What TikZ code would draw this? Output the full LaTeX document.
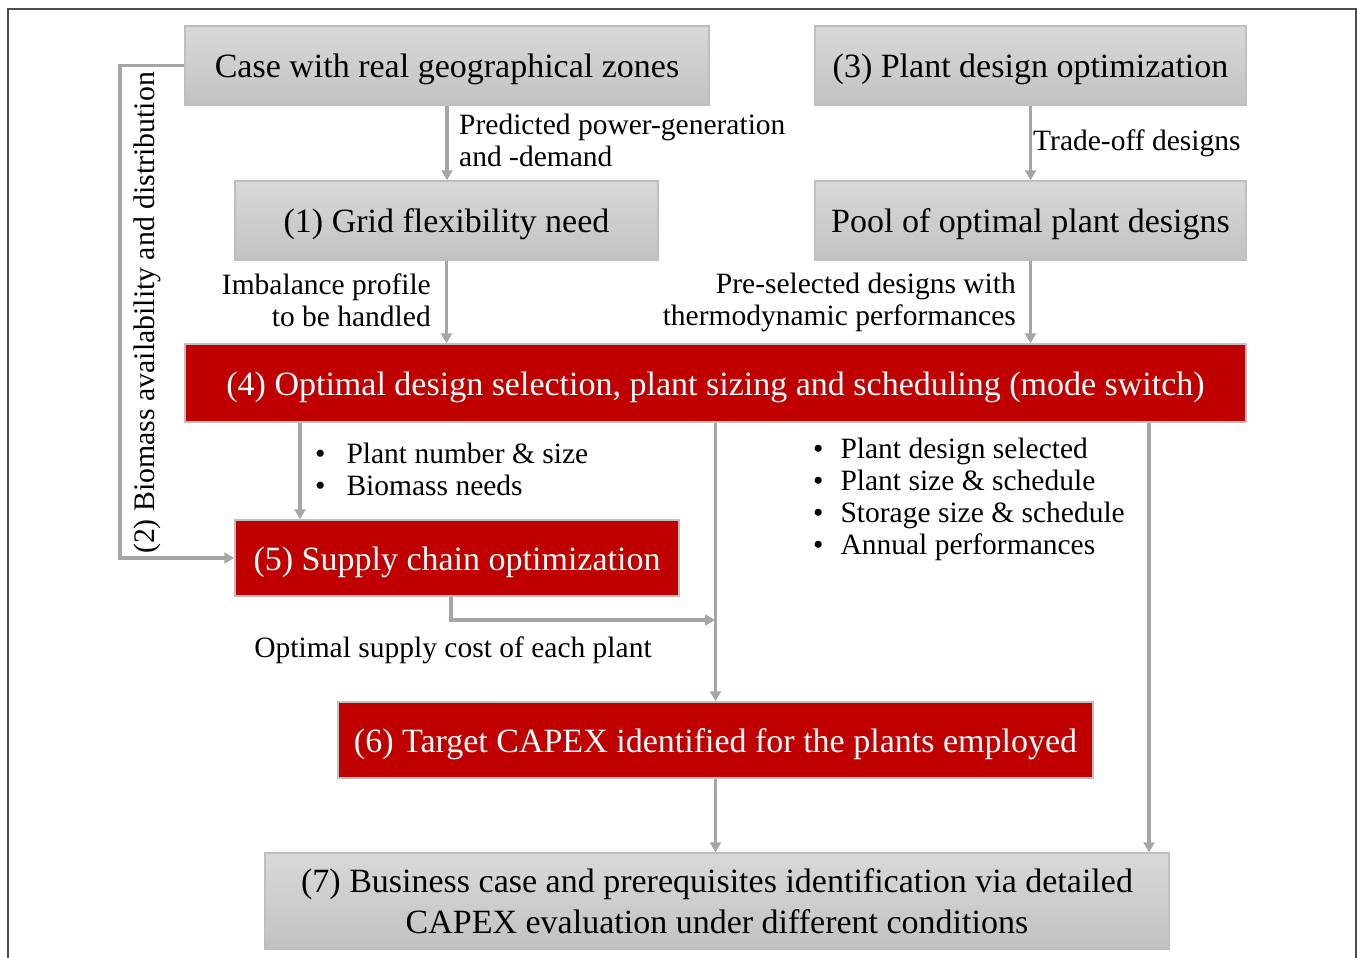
\documentclass[tikz,border=0pt]{standalone}
\usepackage{fontspec}
\setmainfont{Liberation Serif}
\usetikzlibrary{arrows.meta,calc}
\definecolor{boxred}{HTML}{C00000}
\definecolor{arrgray}{HTML}{A6A6A6}
\definecolor{edgegray}{HTML}{BFBFBF}
\begin{document}
\begin{tikzpicture}[x=1pt,y=-1pt,
  graybox/.style={rectangle, draw=edgegray, line width=1.5pt, top color=gray!30, bottom color=gray!48,
    inner sep=0pt, align=center, font=\fontsize{34}{41}\selectfont},
  redbox/.style={rectangle, draw=edgegray, line width=1.5pt, fill=boxred, text=white,
    inner sep=0pt, align=center, font=\fontsize{34}{41}\selectfont},
  oneline/.style={text height=24pt, text depth=0pt},
  lbl/.style={inner sep=0pt, font=\fontsize{29.5}{32}\selectfont},
  arr/.style={draw=arrgray, line width=3.2pt, -{Triangle[length=10pt,width=11pt]}}
]
\useasboundingbox (0,0) rectangle (1357,958);
\draw[line width=1.5pt, color=black!70] (8,958) -- (8,9) -- (1356,9) -- (1356,958);

% boxes
\node[graybox, oneline, minimum width=524pt, minimum height=79pt] (A) at (447,65.5) {Case with real geographical zones};
\node[graybox, oneline, minimum width=431pt, minimum height=79pt] (P3) at (1030.5,65.5) {(3) Plant design optimization};
\node[graybox, oneline, minimum width=423pt, minimum height=79pt] (G1) at (446.5,220.5) {(1) Grid flexibility need};
\node[graybox, oneline, minimum width=431pt, minimum height=79pt] (Pool) at (1030.5,220.5) {Pool of optimal plant designs};
\node[redbox, oneline, minimum width=1061pt, minimum height=78pt] (B4) at (715.5,383) {(4) Optimal design selection, plant sizing and scheduling (mode switch)};
\node[redbox, oneline, minimum width=444pt, minimum height=76pt] (B5) at (457,558) {(5) Supply chain optimization};
\node[redbox, oneline, minimum width=755pt, minimum height=76pt] (B6) at (715.5,740) {(6) Target CAPEX identified for the plants employed};
\node[graybox, minimum width=904pt, minimum height=96pt] (B7) at (717,901) {\raisebox{-2pt}{(7) Business case and prerequisites identification via detailed}\\\raisebox{-2pt}{CAPEX evaluation under different conditions}};

% helper coordinates
\coordinate (c45) at (300,0);
\coordinate (c47) at (1149,0);
\coordinate (c51) at (451,0);
\coordinate (j) at (715,620);
\coordinate (c2) at (120,300);

% connectors
\draw[arr] (A.south) -- (G1.north -| A.south);
\draw[arr] (P3.south) -- (Pool.north);
\draw[arr] (G1.south) -- (G1.south |- B4.north);
\draw[arr] (Pool.south) -- (Pool.south |- B4.north);
\draw[arr] (B4.south -| c45) -- (B5.north -| c45);
\draw[arr] (B4.south) -- (B6.north);
\draw[arr] (B5.south -| c51) |- (j);
\draw[arr] (B6.south) -- (B6.south |- B7.north);
\draw[arr] (B4.south -| c47) -- (B7.north -| c47);
\draw[arr] (A.west) -| (c2) |- (B5.west);

% labels
\node[lbl, anchor=west, align=left] (lPred) at (459,140) {Predicted power-generation\\and -demand};
\node[lbl, anchor=west] (lTrade) at (1033,143) {Trade-off designs};
\node[lbl, anchor=east, align=right] (lImb) at (431,300.5) {Imbalance profile\\to be handled};
\node[lbl, anchor=east, align=right] (lPre) at (1016,302.5) {Pre-selected designs with\\thermodynamic performances};
\node[lbl, anchor=west] (lList1) at (315,473) {\begin{tabular}{@{}l@{\hspace{21pt}}l@{}}\textbullet & Plant number \& size\\ \textbullet & Biomass needs\end{tabular}};
\node[lbl, anchor=west] (lList2) at (813,500) {\fontsize{29.5}{32.3}\selectfont\begin{tabular}{@{}l@{\hspace{17pt}}l@{}}\textbullet & Plant design selected\\ \textbullet & Plant size \& schedule\\ \textbullet & Storage size \& schedule\\ \textbullet & Annual performances\end{tabular}};
\node[lbl] (lOpt) at (453,650) {Optimal supply cost of each plant};
\node[lbl, rotate=90, font=\fontsize{29.8}{32}\selectfont] (lBio) at (147,313) {(2) Biomass availability and distribution};
\end{tikzpicture}
\end{document}
